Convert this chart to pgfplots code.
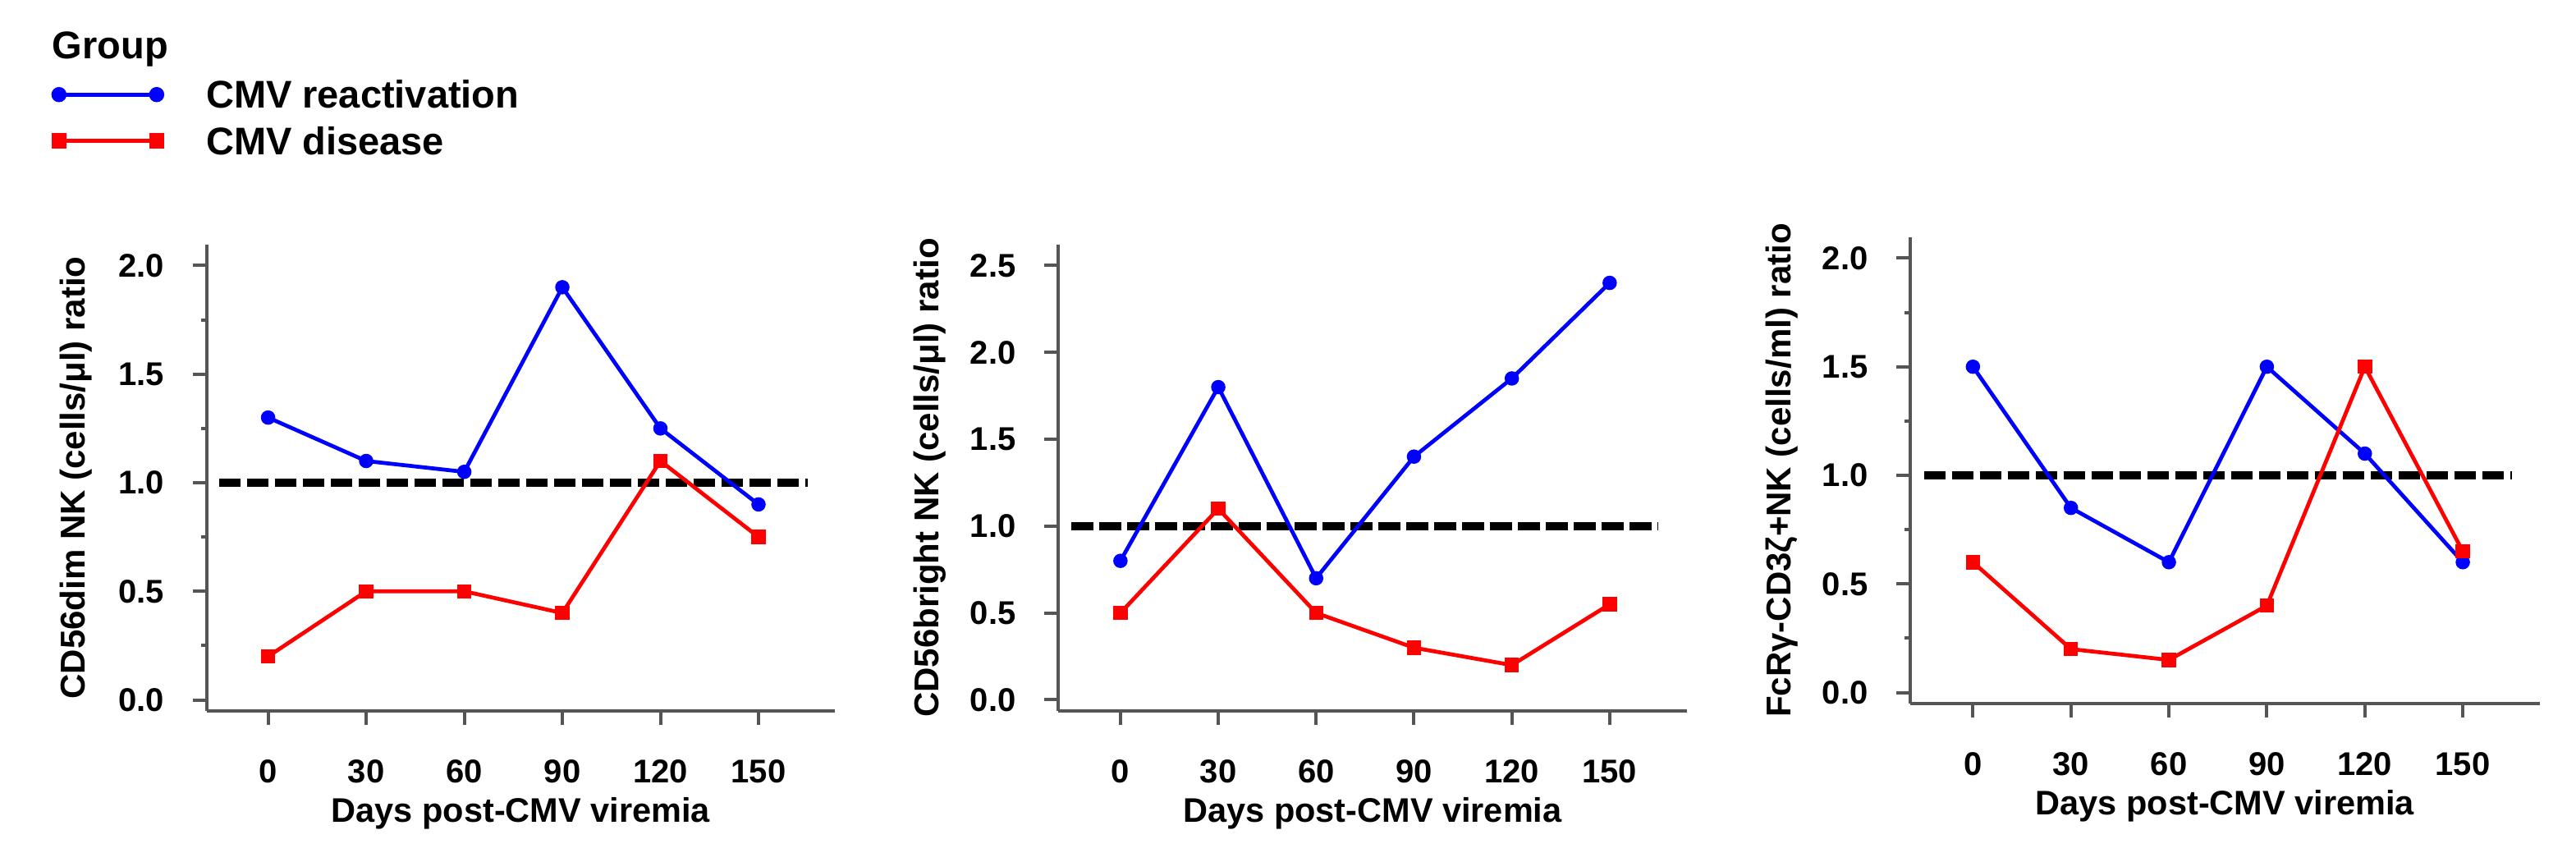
\documentclass[border=0pt]{standalone}
\usepackage{pgfplots}
\pgfplotsset{compat=1.18}
\usepackage{fontspec}
\setmainfont{Liberation Sans}
\definecolor{axgray}{RGB}{85,85,85}
\pgfplotsset{
  panel/.style={
    scale only axis, width=153.1pt, height=113.6pt,
    axis x line*=bottom, axis y line*=left,
    axis line style={axgray, line width=0.8pt, -},
    tick align=outside,
    major tick length=3.4pt, minor tick length=1.4pt,
    every tick/.style={axgray, line width=0.8pt},
    xtick={0,30,60,90,120,150},
    xmin=-18.8, xmax=173.4,
    /pgf/number format/assume math mode=true,
    tick label style={font=\fontsize{8}{9}\selectfont\bfseries, inner sep=0pt},
    xticklabel style={anchor=base, yshift=-14.1pt},
    yticklabel style={anchor=east, xshift=-6.7pt, /pgf/number format/.cd, fixed, fixed zerofill, precision=1},
    xlabel={Days post-CMV viremia},
    xlabel style={font=\fontsize{8.3}{9}\selectfont\bfseries, at={(axis description cs:0.5,-0.2389)}, anchor=base, inner sep=0pt},
    ylabel style={font=\fontsize{8.4}{9}\selectfont\bfseries, anchor=base, inner sep=0pt},
    legend image code/.code={\draw[mark repeat=1, mark size=1.65pt] plot coordinates {(0pt,3.3pt) (23.8pt,3.3pt)};},
  },
  refline/.style={black, line width=2pt, dash pattern=on 5.3pt off 1.5pt, forget plot},
  bser/.style={blue, line width=0.95pt, mark=*, mark size=1.55pt, mark options={solid, fill=blue, draw=blue, line width=0.4pt}},
  rser/.style={red, line width=0.95pt, mark=square*, mark size=1.55pt, mark options={solid, fill=red, draw=red, line width=0.4pt}},
}
\begin{document}
\begin{tikzpicture}
\path[use as bounding box] (0,0) rectangle (627.6pt,-209.8pt);
\node[anchor=base west, inner sep=0pt, font=\fontsize{9.4}{11}\selectfont\bfseries] at (12.6pt,-14.34pt) {Group};
% Panel 1
\begin{axis}[panel, at={(50.34pt,-173.2pt)}, anchor=south west,
  ymin=-0.051, ymax=2.096, ytick={0,0.5,1,1.5,2}, minor y tick num=1,
  ylabel={CD56dim NK (cells/μl) ratio},
  ylabel style={at={(axis description cs:-0.1935,0.5)}},
  legend style={at={(axis description cs:-0.2457,1.3544)}, anchor=north west, draw=none, fill=none,
    inner sep=0pt, outer sep=0pt, row sep=2.26pt, column sep=10.4pt,
    nodes={inner sep=0pt, anchor=base west, text height=7pt, text depth=2pt, font=\fontsize{9.4}{11}\selectfont\bfseries}},
  legend cell align=left]
\addplot[refline] coordinates {(-15,1) (165,1)};
\addplot[bser] coordinates {(0,1.3) (30,1.1) (60,1.05) (90,1.9) (120,1.25) (150,0.9)};
\addplot[rser] coordinates {(0,0.2) (30,0.5) (60,0.5) (90,0.4) (120,1.1) (150,0.75)};
\legend{CMV reactivation, CMV disease}
\end{axis}
% Panel 2
\begin{axis}[panel, at={(257.8pt,-173.2pt)}, anchor=south west, width=153.2pt,
  xmin=-19.1, xmax=173.7,
  ymin=-0.064, ymax=2.62, ytick={0,0.5,1,1.5,2,2.5},
  ylabel={CD56bright NK (cells/μl) ratio},
  ylabel style={at={(axis description cs:-0.19,0.5)}}]
\addplot[refline] coordinates {(-15,1) (165,1)};
\addplot[bser] coordinates {(0,0.8) (30,1.8) (60,0.7) (90,1.4) (120,1.85) (150,2.4)};
\addplot[rser] coordinates {(0,0.5) (30,1.1) (60,0.5) (90,0.3) (120,0.2) (150,0.55)};
\end{axis}
% Panel 3
\begin{axis}[panel, at={(465.4pt,-171.4pt)}, anchor=south west, width=153.4pt,
  xmin=-19.2, xmax=173.6,
  ymin=-0.051, ymax=2.096, ytick={0,0.5,1,1.5,2}, minor y tick num=1,
  ylabel={FcRγ-CD3ζ+NK (cells/ml) ratio},
  ylabel style={at={(axis description cs:-0.19,0.5)}}]
\addplot[refline] coordinates {(-15,1) (165,1)};
\addplot[bser] coordinates {(0,1.5) (30,0.85) (60,0.6) (90,1.5) (120,1.1) (150,0.6)};
\addplot[rser] coordinates {(0,0.6) (30,0.2) (60,0.15) (90,0.4) (120,1.5) (150,0.65)};
\end{axis}
\end{tikzpicture}
\end{document}
